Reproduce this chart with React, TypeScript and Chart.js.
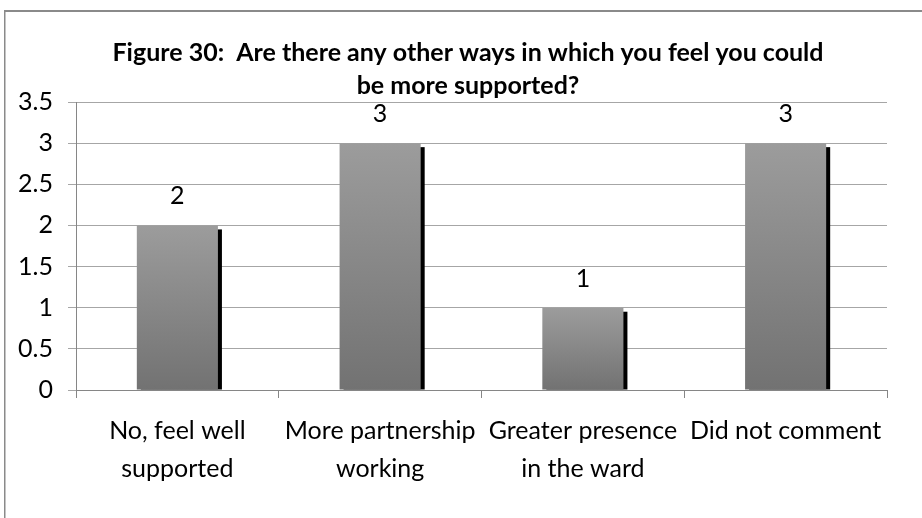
import React, { useEffect, useRef } from 'react';
import { Chart, registerables } from 'chart.js';

Chart.register(...registerables);

const categories: (string | string[])[] = [
  ['No, feel well', 'supported'],
  ['More partnership', 'working'],
  ['Greater presence', 'in the ward'],
  'Did not comment',
];
const values = [2, 3, 1, 3];
const titleLines = [
  'Figure 30:  Are there any other ways in which you feel you could',
  'be more supported?',
];
const yMin = 0;
const yMax = 3.5;
const yStep = 0.5;

const FONT = 'Lato, "Open Sans", sans-serif';
const FS = 25;

const framePlugin = {
  id: 'frame',
  beforeDraw(chart: any) {
    const c = chart.ctx;
    c.save();
    c.fillStyle = '#ffffff';
    c.fillRect(0, 0, chart.width, chart.height);
    c.fillStyle = '#8a8a8a';
    c.fillRect(4, 10, 1.5, chart.height);
    c.fillRect(4, 10, chart.width, 2);
    c.restore();
  },
};

const shadowPlugin = {
  id: 'barShadow',
  beforeDatasetsDraw(chart: any) {
    const c = chart.ctx;
    const meta = chart.getDatasetMeta(0);
    c.save();
    c.fillStyle = '#000000';
    meta.data.forEach((el: any) => {
      const p = el.getProps(['x', 'y', 'base', 'width'], true);
      c.fillRect(p.x - p.width / 2 + 4, p.y + 4, p.width, p.base - p.y - 4);
    });
    c.restore();
  },
  afterDatasetsDraw(chart: any) {
    const c = chart.ctx;
    const meta = chart.getDatasetMeta(0);
    c.save();
    c.fillStyle = '#000000';
    c.font = `${FS}px ${FONT}`;
    c.textAlign = 'center';
    c.textBaseline = 'middle';
    meta.data.forEach((el: any, i: number) => {
      const p = el.getProps(['x', 'y'], true);
      c.fillText(String(values[i]), p.x, p.y - 29);
    });
    c.restore();
  },
};

export default function App() {
  const ref = useRef<HTMLCanvasElement>(null);

  useEffect(() => {
    if (!ref.current) return;
    const chart = new Chart(ref.current, {
      type: 'bar',
      data: {
        labels: categories,
        datasets: [
          {
            data: values,
            backgroundColor: (ctx: any) => {
              const chart = ctx.chart;
              const ys = chart.scales && chart.scales.y;
              if (!ys || !ctx.parsed) return '#888888';
              const top = ys.getPixelForValue(ctx.parsed.y);
              const base = ys.getPixelForValue(0);
              if (!isFinite(top) || !isFinite(base) || top === base) return '#888888';
              const g = chart.ctx.createLinearGradient(0, top, 0, base);
              g.addColorStop(0, '#9c9c9c');
              g.addColorStop(1, '#727272');
              return g;
            },
            borderWidth: 0,
            barPercentage: 0.4,
            categoryPercentage: 1,
          },
        ],
      },
      options: {
        responsive: false,
        animation: false,
        devicePixelRatio: 1,
        layout: { padding: { top: 36, left: 49, right: 35, bottom: 0 } },
        plugins: {
          legend: { display: false },
          tooltip: { enabled: false },
          title: {
            display: true,
            text: titleLines,
            color: '#000000',
            font: { family: FONT, size: FS, weight: 'bold', lineHeight: '33px' },
            padding: 0,
          },
        },
        scales: {
          x: {
            grid: {
              display: true,
              drawOnChartArea: false,
              drawTicks: true,
              tickLength: 8,
              offset: true,
              color: '#868686',
            },
            border: { display: true, color: '#868686', width: 1 },
            ticks: {
              color: '#000000',
              font: { family: FONT, size: FS, lineHeight: '38px' },
              padding: 14,
              maxRotation: 0,
              autoSkip: false,
            },
            afterFit: (s: any) => {
              s.height = 128;
            },
          },
          y: {
            min: yMin,
            max: yMax,
            ticks: {
              stepSize: yStep,
              color: '#000000',
              font: { family: FONT, size: FS },
              padding: 15,
              callback: (v: any) => String(Number(v)),
            },
            grid: { color: '#a6a6a6', tickLength: 8, drawTicks: true },
            border: { color: '#868686' },
            afterFit: (s: any) => {
              s.width = 27;
              s._computeLabelArea = () => undefined;
            },
          },
        },
      },
      plugins: [framePlugin, shadowPlugin],
    });
    return () => chart.destroy();
  }, []);

  return (
    <div style={{ position: 'absolute', left: 0, top: 0, width: 922, height: 518 }}>
      <canvas ref={ref} width={922} height={518} style={{ width: 922, height: 518 }} />
    </div>
  );
}
